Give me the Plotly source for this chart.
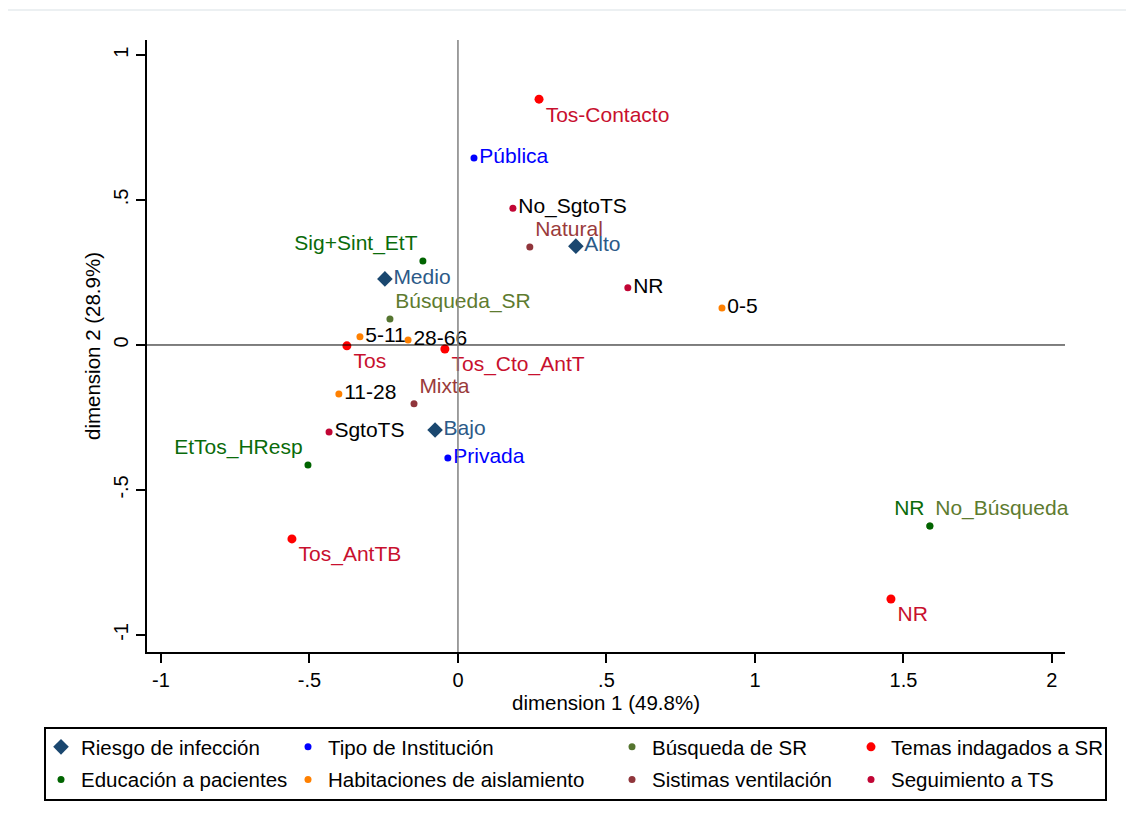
import plotly.graph_objects as go

# ---------------- data ----------------
riesgo_lab = ["Medio", "Alto", "Bajo"]
riesgo_x = [-0.246, 0.397, -0.077]
riesgo_y = [0.228, 0.341, -0.293]

tipo_lab = ["Pública", "Privada"]
tipo_x = [0.054, -0.034]
tipo_y = [0.645, -0.390]

busq_lab = ["Búsqueda_SR", "No_Búsqueda"]
busq_x = [-0.229, 1.589]
busq_y = [0.090, -0.624]

temas_lab = ["Tos-Contacto", "Tos", "Tos_Cto_AntT", "Tos_AntTB", "NR"]
temas_x = [0.273, -0.374, -0.044, -0.559, 1.458]
temas_y = [0.848, -0.003, -0.014, -0.669, -0.876]

educ_lab = ["Sig+Sint_EtT", "EtTos_HResp", "NR"]
educ_x = [-0.118, -0.505, 1.589]
educ_y = [0.290, -0.414, -0.624]

hab_lab = ["0-5", "5-11", "28-66", "11-28"]
hab_x = [0.889, -0.330, -0.168, -0.401]
hab_y = [0.128, 0.028, 0.017, -0.169]

vent_lab = ["Natural", "Mixta"]
vent_x = [0.242, -0.148]
vent_y = [0.338, -0.203]

sgto_lab = ["No_SgtoTS", "NR", "SgtoTS"]
sgto_x = [0.185, 0.572, -0.434]
sgto_y = [0.472, 0.197, -0.300]

x_ticks = [-1, -0.5, 0, 0.5, 1, 1.5, 2]
x_ticktext = ["-1", "-.5", "0", ".5", "1", "1.5", "2"]
y_ticks = [-1, -0.5, 0, 0.5, 1]
y_ticktext = ["-1", "-.5", "0", ".5", "1"]

FONT = "Arial, Liberation Sans, sans-serif"

# ---------------- figure ----------------
fig = go.Figure()


def add(name, xs, ys, labs, mcolor, tcolor, symbol, size, tpos, legend):
    fig.add_trace(go.Scatter(
        x=xs, y=ys, text=labs, name=name, mode="markers+text",
        marker=dict(color=mcolor, symbol=symbol, size=size, line=dict(width=0)),
        textposition=tpos,
        textfont=dict(color=tcolor, size=21, family=FONT),
        legend=legend, legendgroup=name, cliponaxis=False,
    ))


# order: busqueda before educacion so the dark green NR dot is on top
add("Riesgo de infección", riesgo_x, riesgo_y, riesgo_lab, "#1a476f", "#2c5a88",
    "diamond", 12, "middle right", "legend")
add("Tipo de Institución", tipo_x, tipo_y, tipo_lab, "#0000ff", "#0000ff",
    "circle", 7, "middle right", "legend2")
add("Búsqueda de SR", busq_x, busq_y, busq_lab, "#55752f", "#5e7b2f",
    "circle", 7, "top right", "legend3")
add("Temas indagados a SR", temas_x, temas_y, temas_lab, "#ff0000", "#c8102e",
    "circle", 9, "bottom right", "legend4")
add("Educación a pacientes", educ_x, educ_y, educ_lab, "#006400", "#0a6b0a",
    "circle", 7, "top left", "legend")
add("Habitaciones de aislamiento", hab_x, hab_y, hab_lab, "#ff8000", "#000000",
    "circle", 7, "middle right", "legend2")
add("Sistimas ventilación", vent_x, vent_y, vent_lab, "#90353b", "#9a3b3b",
    "circle", 7, "top right", "legend3")
add("Seguimiento a TS", sgto_x, sgto_y, sgto_lab, "#c10534", "#000000",
    "circle", 7, "middle right", "legend4")

# reference lines at 0
fig.add_hline(y=0, line=dict(color="#000000", width=1))
fig.add_vline(x=0, line=dict(color="#808080", width=1.5))

# plot area in page px: x 147..1065, y 40..652  (w 918, h 612)
def px_x(p):
    return (p - 147) / 918.0


def px_y(p):
    return (652 - p) / 612.0


# legend box
fig.add_shape(type="rect", xref="paper", yref="paper",
              x0=px_x(45), x1=px_x(1106), y0=px_y(800), y1=px_y(728),
              line=dict(color="#000000", width=2), fillcolor="rgba(0,0,0,0)")
# faint outer frame
fig.add_shape(type="rect", xref="paper", yref="paper",
              x0=px_x(7), x1=px_x(1141), y0=px_y(839), y1=px_y(10),
              line=dict(color="#e6ecee", width=1.5), fillcolor="rgba(0,0,0,0)")

leg_common = dict(orientation="v", yanchor="top", xanchor="left",
                  font=dict(size=20.5, family=FONT, color="#000000"),
                  bgcolor="rgba(0,0,0,0)", borderwidth=0, tracegroupgap=3,
                  itemsizing="trace")
ly = px_y(727)
fig.update_layout(
    legend=dict(x=px_x(41), y=ly, **leg_common),
    legend2=dict(x=px_x(288), y=ly, **leg_common),
    legend3=dict(x=px_x(612), y=ly, **leg_common),
    legend4=dict(x=px_x(851), y=ly, **leg_common),
)

fig.update_layout(
    width=1134, height=832,
    margin=dict(l=139, r=77, t=32, b=188),
    paper_bgcolor="#ffffff", plot_bgcolor="#ffffff",
    showlegend=True,
    font=dict(family=FONT, color="#000000"),
    xaxis=dict(range=[-1.047, 2.044], tickvals=x_ticks, ticktext=x_ticktext,
               showgrid=False, zeroline=False, showline=True, linecolor="#000000",
               linewidth=2, ticks="outside", ticklen=9, tickwidth=2, tickcolor="#000000",
               tickfont=dict(size=20, family=FONT),
               title=dict(text="dimension 1 (49.8%)", font=dict(size=20.5, family=FONT),
                          standoff=2)),
    yaxis=dict(range=[-1.059, 1.052], tickvals=y_ticks, ticktext=y_ticktext,
               showgrid=False, zeroline=False, showline=True, linecolor="#000000",
               linewidth=2, ticks="outside", ticklen=9, tickwidth=2, tickcolor="#000000",
               tickangle=-90,
               tickfont=dict(size=20, family=FONT),
               title=dict(text="dimension 2 (28.9%)", font=dict(size=20.5, family=FONT),
                          standoff=4)),
)

fig.write_html("out.html")
